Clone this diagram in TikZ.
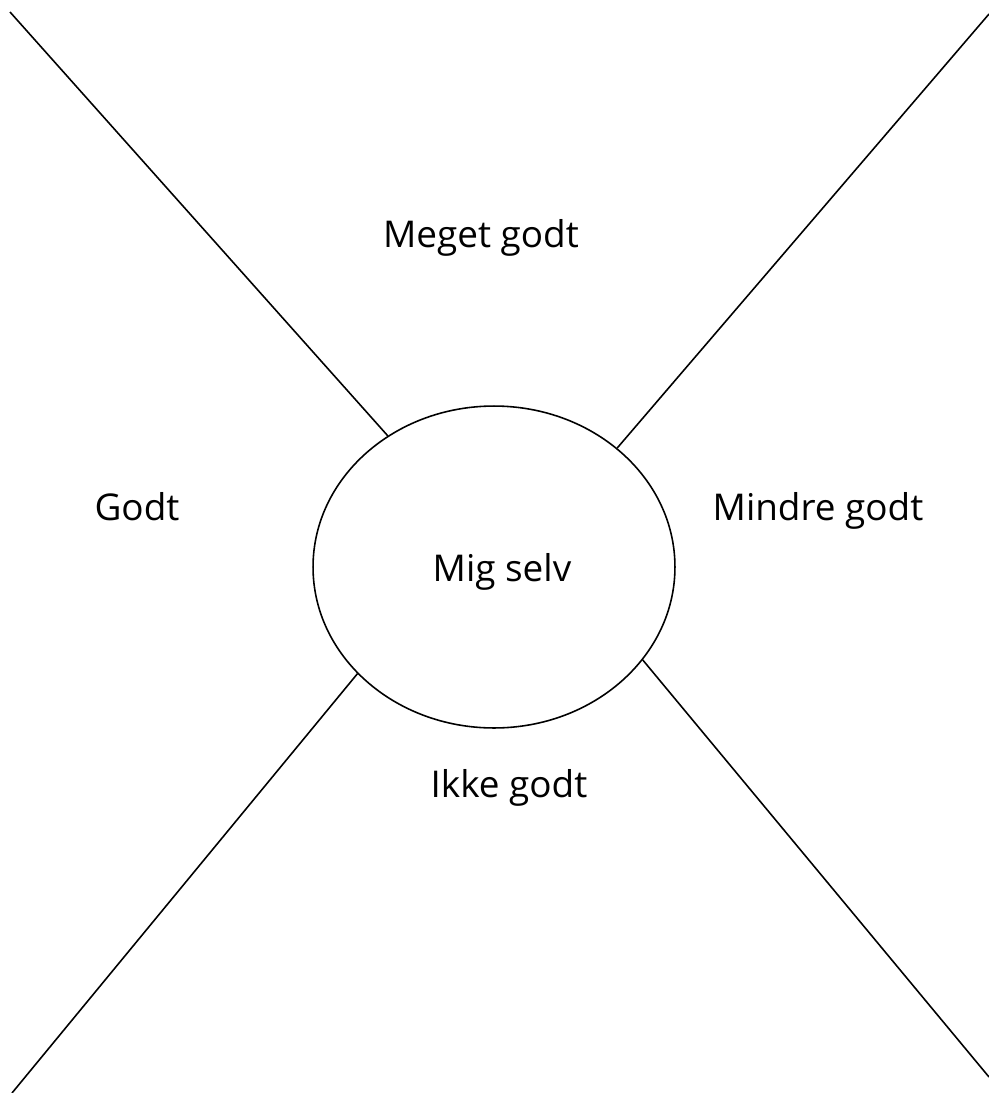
\documentclass[tikz,border=0pt]{standalone}
\usepackage{fontspec}
\setmainfont{Open Sans}
\usetikzlibrary{shapes.geometric}
\begin{document}
\begin{tikzpicture}[x=0.02cm,y=-0.02cm,line width=.9pt,lbl/.style={font=\fontsize{21}{24}\selectfont}]
\useasboundingbox (0,0) rectangle (989,1093);
\node[draw,ellipse,minimum width=7.24cm,minimum height=6.44cm] (self) at (494,567) {};
\node[lbl,anchor=base] (mig) at (502,581) {Mig selv};
\coordinate (tl) at (10,12); \coordinate (tr) at (989,14); \coordinate (bl) at (12,1093); \coordinate (br) at (989,1077);
\draw (tl)--(self.129); \draw (tr)--(self.44); \draw (bl)--(self.218); \draw (br)--(self.328);
\node[lbl,anchor=base] (meget) at (481,247) {Meget godt}; \node[lbl,anchor=base] (godt) at (137,520) {Godt};
\node[lbl,anchor=base] (mindre) at (818,520) {Mindre godt}; \node[lbl,anchor=base] (ikke) at (509,797) {Ikke godt};
\end{tikzpicture}
\end{document}
